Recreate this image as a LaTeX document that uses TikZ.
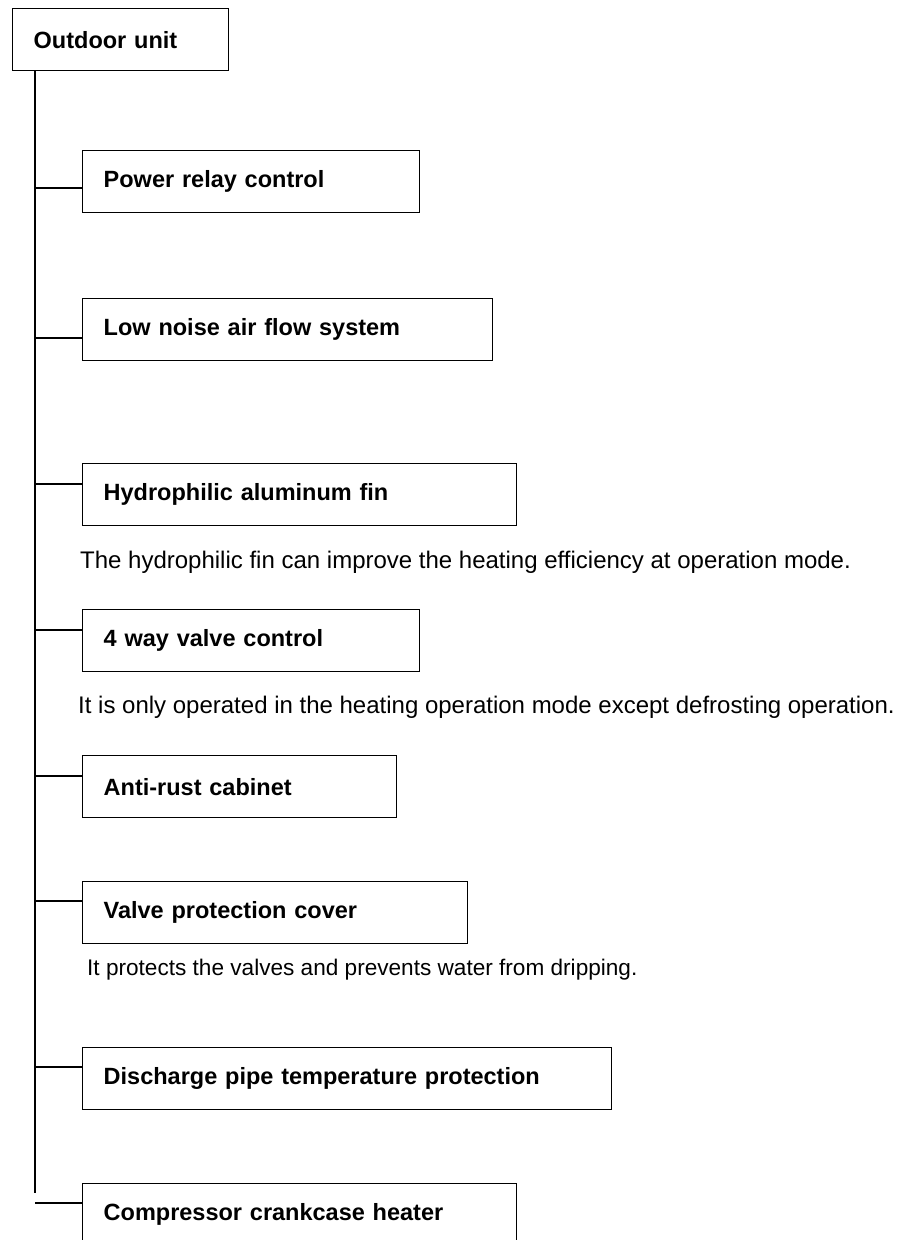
\documentclass[tikz,border=0pt]{standalone}
\usepackage{fontspec}
\setmainfont{Liberation Sans}
\begin{document}
\begin{tikzpicture}[x=1pt,y=-1pt,
  frame/.style={line width=1.4pt},
  itembox/.style={draw, frame, anchor=north west, inner xsep=21pt, inner ysep=0pt,
    minimum height=62pt, align=left, font=\fontsize{23.5}{28}\selectfont\bfseries},
  note/.style={anchor=base west, inner sep=0pt, font=\fontsize{#1}{28}\selectfont},
  note/.default=24,
  link/.style={frame}]
\useasboundingbox (0,0) rectangle (898,1240);
\clip (0,0) rectangle (898,1240);

% root
\node[itembox, text width=174pt] (root) at (12,8) {Outdoor unit};

% feature boxes
\node[itembox, text width=295pt] (b1) at (82,150)  {Power relay control};
\node[itembox, text width=368pt] (b2) at (82,298)  {Low noise air flow system};
\node[itembox, text width=392pt] (b3) at (82,463)  {Hydrophilic aluminum fin};
\node[itembox, text width=295pt] (b4) at (82,609)  {4 way valve control};
\node[itembox, text width=272pt] (b5) at (82,755)  {Anti-rust cabinet};
\node[itembox, text width=343pt] (b6) at (82,881)  {Valve protection cover};
\node[itembox, text width=487pt] (b7) at (82,1047) {Discharge pipe temperature protection};
\node[itembox, text width=392pt] (b8) at (82,1183) {Compressor crankcase heater};

% descriptions
\node[note] (d3) at (80,568) {The hydrophilic fin can improve the heating efficiency at operation mode.};
\node[note] (d4) at (78,713) {It is only operated in the heating operation mode except defrosting operation.};
\node[note=22.6] (d6) at (87,975) {It protects the valves and prevents water from dripping.};

% trunk
\coordinate (ttop) at (35,70);
\coordinate (tend) at (35,1193);
\draw[link] (ttop) -- (tend);

% branch points on the trunk
\coordinate (t1) at (35,188);
\coordinate (t2) at (35,338);
\coordinate (t3) at (35,484);
\coordinate (t4) at (35,630);
\coordinate (t5) at (35,776);
\coordinate (t6) at (35,901);
\coordinate (t7) at (35,1067);
\coordinate (t8) at (35,1203);

\foreach \i in {1,...,8}{
  \draw[link] (t\i) -- (t\i -| b\i.west);
}
\end{tikzpicture}
\end{document}
